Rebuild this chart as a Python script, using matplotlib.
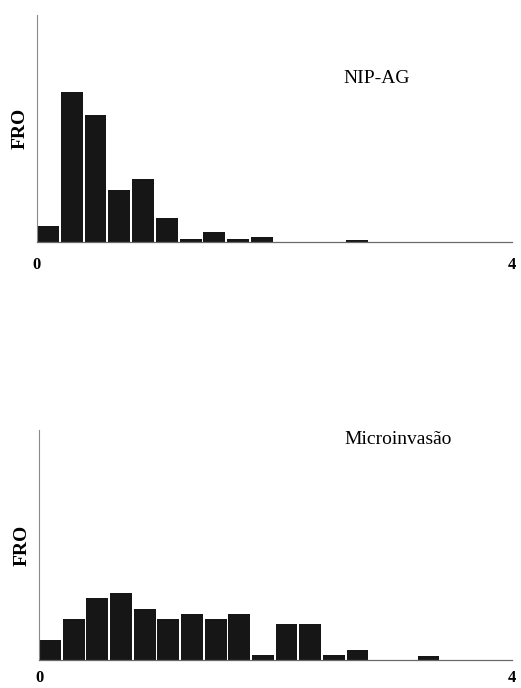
import numpy as np
import matplotlib.pyplot as plt

# ======================
# Data (relative frequency, %)
# ======================

bin_edges = np.round(np.arange(0, 4.0, 0.2), 1)

nip_ag = [3.5, 33.0, 28.0, 11.5, 14.0, 5.3, 0.6, 2.2, 0.6, 1.1,
          0.0, 0.0, 0.0, 0.4, 0.0, 0.0, 0.0, 0.0, 0.0, 0.0]

microinvasao = [4.0, 8.0, 12.0, 13.0, 10.0, 8.0, 9.0, 8.0, 9.0, 1.0,
                7.0, 7.0, 1.0, 2.0, 0.0, 0.0, 0.9, 0.0, 0.0, 0.0]

panels = [
    ("NIP-AG", nip_ag, 50.0),
    ("Microinvasão", microinvasao, 44.4),
]

x_ticks = [0, 4]
x_tick_labels = ["0", "4"]


# ======================
# Plot
# ======================

plt.rcParams["font.family"] = ["Liberation Serif", "DejaVu Serif"]

fig = plt.figure(figsize=(5.21, 6.88), dpi=100)

axes_boxes = [
    [0.071, 0.648, 0.912, 0.330],
    [0.075, 0.040, 0.908, 0.335],
]
title_y = [0.72, 0.96]
tick_pad = [11, 7]

for (title, values, ymax), box, ty, pad in zip(panels, axes_boxes, title_y, tick_pad):

    ax = fig.add_axes(box)

    ax.bar(
        bin_edges,
        values,
        width=0.185,
        align="edge",
        color="#161616",
        edgecolor="none"
    )

    ax.set_xlim(0, 4)
    ax.set_ylim(0, ymax)

    for side in ["top", "right"]:
        ax.spines[side].set_visible(False)

    ax.spines["left"].set_color("#8a8a8a")
    ax.spines["left"].set_linewidth(0.8)
    ax.spines["bottom"].set_color("#6a6a6a")
    ax.spines["bottom"].set_linewidth(0.9)

    ax.set_yticks([])
    ax.set_xticks(x_ticks)
    ax.set_xticklabels(x_tick_labels, fontsize=12, fontweight="bold")
    ax.tick_params(axis="x", length=0, pad=pad)

    ax.set_ylabel("FRO", fontsize=14, fontweight="bold", labelpad=6)

    ax.text(
        0.645,
        ty,
        title,
        transform=ax.transAxes,
        fontsize=14,
        ha="left",
        va="center"
    )

fig.savefig("out.png", dpi=100)
